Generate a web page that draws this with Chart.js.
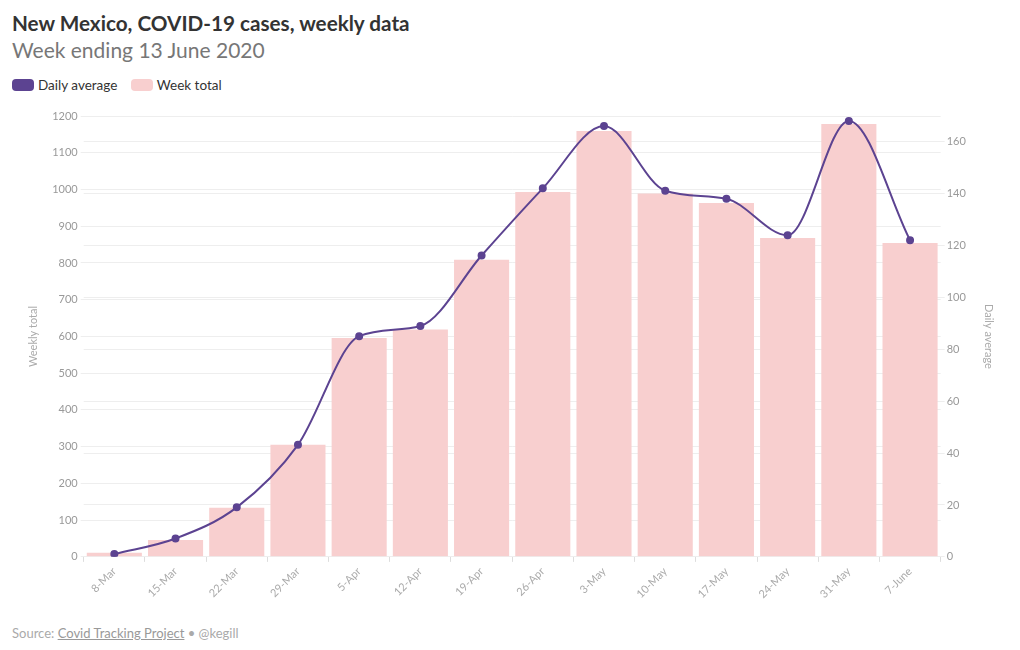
<!DOCTYPE html>
<html>
<head>
    <title>New Mexico, COVID-19 cases</title>
    <script src="https://cdn.jsdelivr.net/npm/chart.js"></script>
    <style>
        body { margin: 0; background: #fff; font-family: Lato, "Noto Sans", sans-serif; }
        #wrap { position: relative; width: 1020px; height: 650px; }
        h1 { position: absolute; left: 12px; top: 11px; margin: 0; font-size: 20.7px; font-weight: 700; color: #333; }
        h2 { position: absolute; left: 12px; top: 37px; margin: 0; font-size: 21px; font-weight: 400; color: #777; }
        .legend { position: absolute; left: 12px; top: 77px; font-size: 13.5px; color: #333; }
        .legend span.item { margin-right: 10px; }
        .legend i { display: inline-block; width: 22px; height: 12px; border-radius: 4px; vertical-align: -1px; margin-right: 4px; }
        #box { position: absolute; left: 0; top: 104px; width: 1020px; height: 500px; }
        .source { position: absolute; left: 12px; top: 625px; font-size: 13px; color: #aaa; }
        .source u { color: #999; }
    </style>
</head>
<body>
<div id="wrap">
    <h1>New Mexico, COVID-19 cases, weekly data</h1>
    <h2>Week ending 13 June 2020</h2>
    <div class="legend">
        <span class="item"><i style="background:#5c4391"></i>Daily average</span>
        <span class="item"><i style="background:#f8cfcf"></i>Week total</span>
    </div>
    <div id="box"><canvas id="chart"></canvas></div>
    <div class="source">Source: <u>Covid Tracking Project</u> • @kegill</div>
</div>
<script>
    const weeks = ['8-Mar', '15-Mar', '22-Mar', '29-Mar', '5-Apr', '12-Apr', '19-Apr', '26-Apr',
        '3-May', '10-May', '17-May', '24-May', '31-May', '7-June'];
    const weekTotal = [11, 46, 134, 305, 596, 619, 809, 993, 1159, 989, 963, 868, 1178, 854];
    const dailyAverage = [1.1, 7.1, 19.1, 43.2, 85.1, 89.0, 116.2, 142.1, 166.1, 141.2, 138.1, 124.0, 168.1, 122.1];

    const tickFont = { family: 'Lato, "Noto Sans", sans-serif', size: 11 };

    const chart = new Chart(document.querySelector('#chart'), {
        data: {
            labels: weeks,
            datasets: [{
                type: 'line',
                label: 'Daily average',
                data: dailyAverage,
                yAxisID: 'y1',
                borderColor: '#5c4391',
                backgroundColor: '#5c4391',
                borderWidth: 2,
                pointRadius: 3,
                cubicInterpolationMode: 'monotone',
                order: 0
            }, {
                type: 'bar',
                label: 'Week total',
                data: weekTotal,
                yAxisID: 'y',
                backgroundColor: '#f8cfcf',
                barPercentage: 0.9,
                categoryPercentage: 1,
                order: 1
            }]
        },
        options: {
            responsive: true,
            maintainAspectRatio: false,
            animation: false,
            layout: { padding: { left: 22, right: 11, top: 12, bottom: 0 } },
            plugins: { legend: { display: false }, tooltip: { enabled: false } },
            scales: {
                x: {
                    grid: { drawOnChartArea: false, tickLength: 5, color: '#ddd' },
                    border: { display: false },
                    ticks: { color: '#aaa', font: tickFont, minRotation: 45, maxRotation: 45 }
                },
                y: {
                    position: 'left',
                    min: 0, max: 1200,
                    ticks: { stepSize: 100, color: '#999', font: tickFont, padding: 3, callback: v => String(v) },
                    grid: { color: '#eeeeee', tickLength: 3 },
                    border: { display: false },
                    title: { display: true, text: 'Weekly total', color: '#aaa', font: tickFont, padding: { top: 5, bottom: 9 } }
                },
                y1: {
                    position: 'right',
                    min: 0, max: 170,
                    ticks: { stepSize: 20, includeBounds: false, color: '#999', font: tickFont, padding: 2, callback: v => String(v) },
                    grid: { color: '#eeeeee', tickLength: 4 },
                    border: { display: false },
                    title: { display: true, text: 'Daily average', color: '#aaa', font: tickFont, padding: 14 }
                }
            }
        }
    });
</script>
</body>
</html>
